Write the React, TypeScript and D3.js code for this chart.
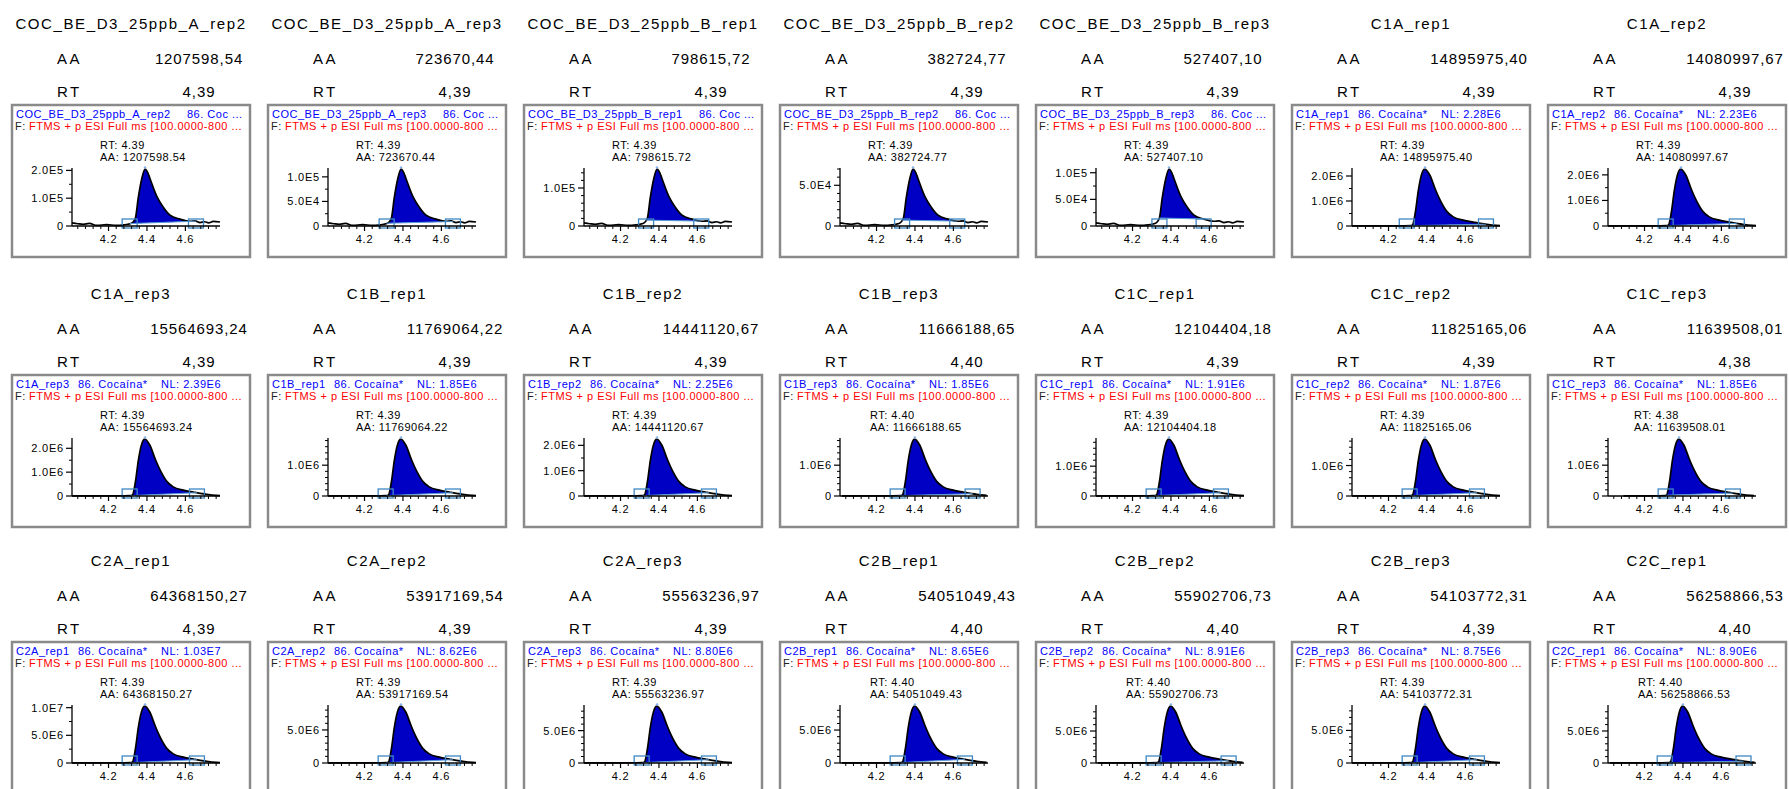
import React from 'react';
import * as d3 from 'd3';

// ---------- data ----------
const sampleNames = [
  'COC_BE_D3_25ppb_A_rep2', 'COC_BE_D3_25ppb_A_rep3', 'COC_BE_D3_25ppb_B_rep1', 'COC_BE_D3_25ppb_B_rep2',
  'COC_BE_D3_25ppb_B_rep3', 'C1A_rep1', 'C1A_rep2',
  'C1A_rep3', 'C1B_rep1', 'C1B_rep2', 'C1B_rep3', 'C1C_rep1', 'C1C_rep2', 'C1C_rep3',
  'C2A_rep1', 'C2A_rep2', 'C2A_rep3', 'C2B_rep1', 'C2B_rep2', 'C2B_rep3', 'C2C_rep1',
];
const peakAreas = [
  1207598.54, 723670.44, 798615.72, 382724.77, 527407.10, 14895975.40, 14080997.67,
  15564693.24, 11769064.22, 14441120.67, 11666188.65, 12104404.18, 11825165.06, 11639508.01,
  64368150.27, 53917169.54, 55563236.97, 54051049.43, 55902706.73, 54103772.31, 56258866.53,
];
const retentionTimes = [
  4.39, 4.39, 4.39, 4.39, 4.39, 4.39, 4.39,
  4.39, 4.39, 4.39, 4.40, 4.39, 4.39, 4.38,
  4.39, 4.39, 4.39, 4.40, 4.40, 4.39, 4.40,
];
// NL (normalisation level); the standards' NL is truncated in the header
const nlLabels = [
  null, null, null, null, null, '2.28E6', '2.23E6',
  '2.39E6', '1.85E6', '2.25E6', '1.85E6', '1.91E6', '1.87E6', '1.85E6',
  '1.03E7', '8.62E6', '8.80E6', '8.65E6', '8.91E6', '8.75E6', '8.90E6',
];
const apexIntensities = [
  2.05e5, 1.16e5, 1.5e5, 7.0e4, 1.07e5, 2.28e6, 2.23e6,
  2.39e6, 1.85e6, 2.25e6, 1.85e6, 1.91e6, 1.87e6, 1.85e6,
  1.03e7, 8.62e6, 8.80e6, 8.65e6, 8.91e6, 8.75e6, 8.90e6,
];
const yMajorSteps = [
  1e5, 5e4, 1e5, 5e4, 5e4, 1e6, 1e6,
  1e6, 1e6, 1e6, 1e6, 1e6, 1e6, 1e6,
  5e6, 5e6, 5e6, 5e6, 5e6, 5e6, 5e6,
];
const peakStarts = [
  4.31, 4.315, 4.333, 4.333, 4.34, 4.295, 4.31,
  4.31, 4.31, 4.31, 4.31, 4.31, 4.31, 4.31,
  4.31, 4.31, 4.31, 4.31, 4.31, 4.31, 4.305,
];
const peakEnds = [
  4.655, 4.66, 4.62, 4.62, 4.57, 4.707, 4.68,
  4.66, 4.66, 4.66, 4.70, 4.66, 4.66, 4.66,
  4.66, 4.66, 4.66, 4.66, 4.70, 4.66, 4.715,
];
// chromatogram traces (relative to apex, apex at 4.39 min)
const stdTraceTimes = [4.01, 4.04, 4.07, 4.10, 4.14, 4.19, 4.24, 4.28, 4.30, 4.325, 4.34, 4.355, 4.373, 4.39, 4.405, 4.416, 4.45, 4.485, 4.52, 4.572, 4.624, 4.65, 4.676, 4.70, 4.72, 4.745, 4.78];
const stdTraceLevels = [0.055, 0.04, 0.03, 0.045, 0.01, 0.025, 0.01, 0.02, 0.03, 0.06, 0.14, 0.5, 0.83, 1.0, 0.93, 0.83, 0.53, 0.33, 0.19, 0.12, 0.083, 0.09, 0.06, 0.075, 0.055, 0.08, 0.07];
const sampleTraceTimes = [4.01, 4.10, 4.20, 4.28, 4.315, 4.325, 4.34, 4.355, 4.367, 4.381, 4.39, 4.40, 4.416, 4.442, 4.468, 4.503, 4.537, 4.589, 4.641, 4.711, 4.763, 4.78];
const sampleTraceLevels = [0.002, 0.002, 0.003, 0.004, 0.006, 0.02, 0.25, 0.62, 0.84, 0.98, 1.0, 0.97, 0.886, 0.657, 0.457, 0.257, 0.16, 0.103, 0.069, 0.029, 0.011, 0.008];
const xDomain = [4.01, 4.78];
const xMajorTicks = [4.2, 4.4, 4.6];
const xMinorStep = 0.04;

// ---------- layout ----------
const W = 1789, H = 789;
const COL_X0 = 12, COL_STEP = 256, BOX_W = 238, BOX_H = 152;
const ROW_TOPS = [105, 375, 642];
const AX_LEFT = 60, AX_RIGHT = 208, BASE_DY = 121, PLOT_H = 57;
const FONT = 'Arial, "Liberation Sans", sans-serif';
const INNER = { fontSize: 11, letterSpacing: '0.5px' } as React.CSSProperties;
const TICKF = { fontSize: 11, letterSpacing: '0.8px' } as React.CSSProperties;

const commaNum = (v: number) => v.toFixed(2).replace('.', ',');
const sci = (v: number) => (v === 0 ? '0' : v.toExponential(1).toUpperCase().replace('E+', 'E'));

function interp(ts: number[], vs: number[], t: number) {
  if (t <= ts[0]) return vs[0];
  for (let k = 1; k < ts.length; k++) {
    if (t <= ts[k]) {
      const f = (t - ts[k - 1]) / (ts[k] - ts[k - 1]);
      return vs[k - 1] + f * (vs[k] - vs[k - 1]);
    }
  }
  return vs[vs.length - 1];
}

function Panel({ i }: { i: number }) {
  const col = i % 7;
  const row = Math.floor(i / 7);
  const bx = COL_X0 + col * COL_STEP;
  const by = ROW_TOPS[row];
  const isStd = i < 5;
  const shift = retentionTimes[i] - 4.39;
  const ts = (isStd ? stdTraceTimes : sampleTraceTimes).map((t) => t + shift);
  const ls = isStd ? stdTraceLevels : sampleTraceLevels;
  const apex = apexIntensities[i];
  const nl = nlLabels[i] ? parseFloat(nlLabels[i] as string) : apex;

  const x = d3.scaleLinear().domain(xDomain).range([bx + AX_LEFT, bx + AX_RIGHT]);
  const yBase = by + BASE_DY;
  const y = d3.scaleLinear().domain([0, nl]).range([yBase, yBase - PLOT_H]);

  const pts: [number, number][] = ts
    .map((t, k) => [t, ls[k] * apex] as [number, number])
    .filter((p) => p[0] >= xDomain[0] - 1e-9 && p[0] <= xDomain[1] + 1e-9);

  const line = d3.line<[number, number]>().x((d) => x(d[0])).y((d) => y(d[1])).curve(d3.curveMonotoneX);

  const s = peakStarts[i], e = peakEnds[i];
  const vs = interp(ts, ls, s) * apex, ve = interp(ts, ls, e) * apex;
  const baseAt = (t: number) => vs + ((t - s) / (e - s)) * (ve - vs);
  const areaPts: [number, number][] = [[s, vs], ...pts.filter((p) => p[0] > s && p[0] < e), [e, ve]];
  const area = d3.area<[number, number]>()
    .x((d) => x(d[0]))
    .y0((d) => y(baseAt(d[0])))
    .y1((d) => y(d[1]))
    .curve(d3.curveMonotoneX);

  const major = yMajorSteps[i];
  const yMaj = d3.range(0, nl + 1e-6, major);
  const nLab = yMaj.length - 1;
  const minorStep = nLab >= 2 ? major / 2 : major / 5;
  const yMin = d3.range(0, nl + 1e-6, minorStep).filter((v) => Math.abs(v / major - Math.round(v / major)) > 1e-6);
  const xMin = d3.range(4.04, xDomain[1], xMinorStep).filter((v) => !xMajorTicks.some((m) => Math.abs(m - v) < 1e-6));
  const axX = bx + AX_LEFT;
  const apexX = x(retentionTimes[i]);

  const cx = bx + BOX_W / 2;
  const valX = bx + 187;
  return (
    <g>
      {/* header cells */}
      <text x={cx} y={by - 82} textAnchor="middle" dominantBaseline="central" fontFamily={FONT} style={{ fontSize: 15, letterSpacing: '1.6px' }}>{sampleNames[i]}</text>
      <text x={bx + 45} y={by - 47} dominantBaseline="central" fontFamily={FONT} style={{ fontSize: 15, letterSpacing: '2.5px' }}>AA</text>
      <text x={valX} y={by - 47} textAnchor="middle" dominantBaseline="central" fontFamily={FONT} style={{ fontSize: 15, letterSpacing: '0.9px' }}>{commaNum(peakAreas[i])}</text>
      <text x={bx + 45} y={by - 14} dominantBaseline="central" fontFamily={FONT} style={{ fontSize: 15, letterSpacing: '2.5px' }}>RT</text>
      <text x={valX} y={by - 14} textAnchor="middle" dominantBaseline="central" fontFamily={FONT} style={{ fontSize: 15, letterSpacing: '0.9px' }}>{commaNum(retentionTimes[i])}</text>

      {/* chromatogram box */}
      <rect x={bx} y={by} width={BOX_W} height={BOX_H} fill="#fff" stroke="#8a8a8a" strokeWidth={2.5} />
      <clipPath id={`clip${i}`}><rect x={bx + 2} y={by + 2} width={BOX_W - 4} height={BOX_H - 4} /></clipPath>
      <g clipPath={`url(#clip${i})`} fontFamily={FONT}>
        {isStd ? (
          <text y={by + 9} dominantBaseline="central" fill="#0000ff" style={INNER}>
            <tspan x={bx + 4}>{sampleNames[i]}</tspan>
            <tspan x={bx + 175}>86. Coc ...</tspan>
          </text>
        ) : (
          <text y={by + 9} dominantBaseline="central" fill="#0000ff" style={INNER}>
            <tspan x={bx + 4}>{sampleNames[i]}</tspan>
            <tspan x={bx + 66}>86. Cocaína*</tspan>
            <tspan x={bx + 149}>NL: {nlLabels[i]}</tspan>
          </text>
        )}
        <text y={by + 21} dominantBaseline="central" style={INNER}>
          <tspan x={bx + 3} fill="#222">F:</tspan>
          <tspan x={bx + 17} fill="#ff0000">FTMS + p ESI Full ms [100.0000-800 ...</tspan>
        </text>
        <text x={apexX - 45} y={by + 40} dominantBaseline="central" style={INNER}>RT: {retentionTimes[i].toFixed(2)}</text>
        <text x={apexX - 45} y={by + 52} dominantBaseline="central" style={INNER}>AA: {peakAreas[i].toFixed(2)}</text>

        {/* peak fill and trace */}
        <path d={area(areaPts) || ''} fill="#0000c4" />
        <path d={line(pts) || ''} fill="none" stroke="#000" strokeWidth={1.7} />
        <circle cx={apexX} cy={y(apex) - 1.5} r={1.3} fill="#8ab4e8" />
        <line x1={x(s)} x2={x(e)} y1={y(vs)} y2={y(ve)} stroke="#5a9bd5" strokeWidth={1} />
        {[s, e].map((t, k) => (
          <rect key={k} x={x(t) - 7.5} y={yBase - 7} width={15} height={9} fill="none" stroke="#3f87c4" strokeWidth={1.3} />
        ))}

        {/* axes */}
        <line x1={axX} x2={axX} y1={yBase} y2={y(nl) - 1} stroke="#000" strokeWidth={1.3} />
        <line x1={axX} x2={bx + AX_RIGHT} y1={yBase} y2={yBase} stroke="#000" strokeWidth={1.3} />
        {yMaj.map((v) => (
          <g key={`ym${v}`}>
            <line x1={axX - 6} x2={axX} y1={y(v)} y2={y(v)} stroke="#000" strokeWidth={1.2} />
            <text x={axX - 8} y={y(v)} textAnchor="end" dominantBaseline="central" style={TICKF}>{sci(v)}</text>
          </g>
        ))}
        {yMin.map((v) => (
          <line key={`yn${v}`} x1={axX - 3} x2={axX} y1={y(v)} y2={y(v)} stroke="#000" strokeWidth={1} />
        ))}
        {xMajorTicks.map((v) => (
          <g key={`xm${v}`}>
            <line x1={x(v)} x2={x(v)} y1={yBase} y2={yBase + 5} stroke="#000" strokeWidth={1.2} />
            <text x={x(v)} y={yBase + 13} textAnchor="middle" dominantBaseline="central" style={TICKF}>{v.toFixed(1)}</text>
          </g>
        ))}
        {xMin.map((v) => (
          <line key={`xn${v}`} x1={x(v)} x2={x(v)} y1={yBase} y2={yBase + 3} stroke="#000" strokeWidth={1} />
        ))}
      </g>
    </g>
  );
}

export default function App() {
  return (
    <svg width={W} height={H} style={{ position: 'absolute', left: 0, top: 0, background: '#fff' }}>
      <rect width={W} height={H} fill="#fff" />
      {sampleNames.map((_, i) => (
        <Panel key={i} i={i} />
      ))}
    </svg>
  );
}
